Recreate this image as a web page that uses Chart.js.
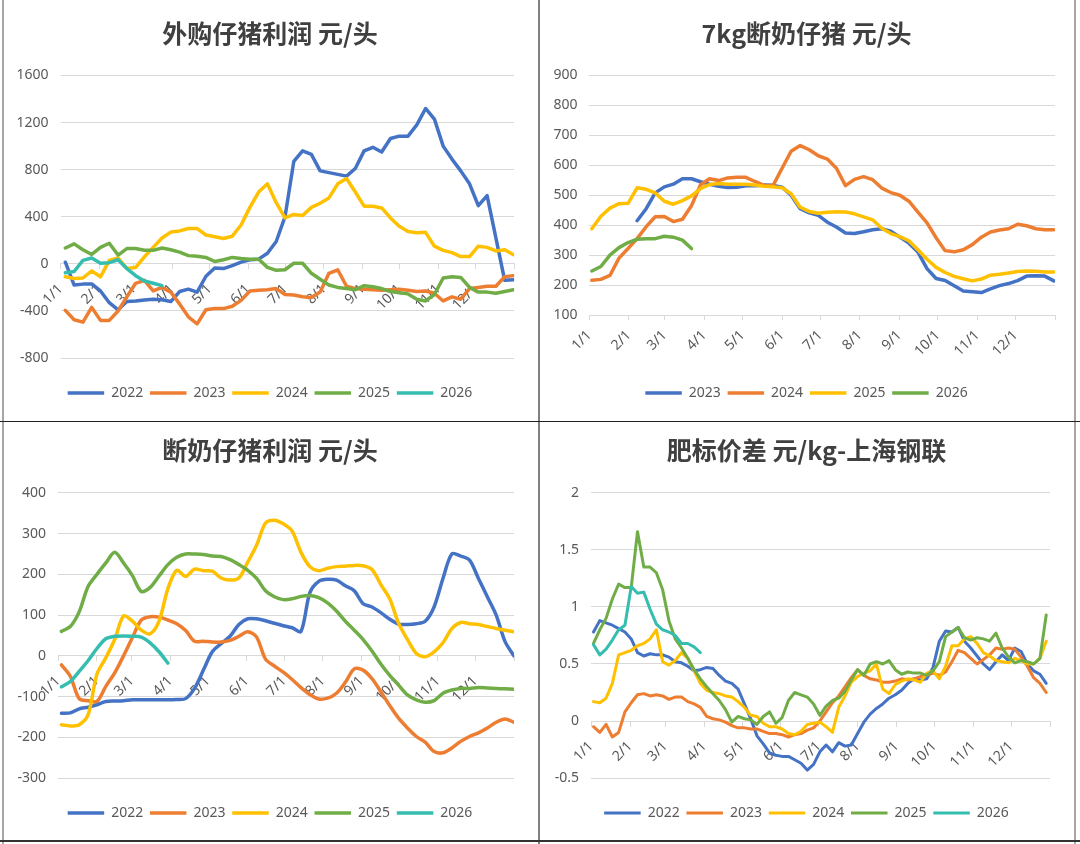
<!DOCTYPE html>
<html>
<head>
<meta charset="utf-8">
<script src="https://cdn.jsdelivr.net/npm/chart.js@4.4.1/dist/chart.umd.min.js"></script>
<style>
  body { margin: 0; background: #fff; }
  #wrap { position: relative; width: 1080px; height: 844px; background: #fff; overflow: hidden; }
  canvas { position: absolute; }
  .rule { position: absolute; }
</style>
</head>
<body>
<div id="wrap">
  <div class="rule" style="left:2px;top:0;width:2px;height:844px;background:#a6a6a6"></div>
  <div class="rule" style="left:538px;top:0;width:2px;height:844px;background:#808080"></div>
  <div class="rule" style="left:1074px;top:0;width:2px;height:844px;background:#a6a6a6"></div>
  <div class="rule" style="left:0;top:421px;width:1080px;height:1px;background:#222"></div>
  <div class="rule" style="left:0;top:840px;width:1080px;height:1.5px;background:#333"></div>
  <canvas id="c1" width="534" height="420" style="left:4px;top:0"></canvas>
  <canvas id="c2" width="533" height="420" style="left:541px;top:0"></canvas>
  <canvas id="c3" width="534" height="418" style="left:4px;top:422px"></canvas>
  <canvas id="c4" width="533" height="418" style="left:541px;top:422px"></canvas>
</div>
<script>
// month boundaries (day of year) and their labels
const MONTH_DAYS = [0, 31, 59, 90, 120, 151, 181, 212, 243, 273, 304, 334, 365];
const MONTH_LABELS = ['1/1', '2/1', '3/1', '4/1', '5/1', '6/1', '7/1', '8/1', '9/1', '10/1', '11/1', '12/1', ''];
const PALETTE = ['#4472C4', '#ED7D31', '#FFC000', '#70AD47', '#35BDB0'];

// 外购仔猪利润 元/头 (weekly)
const years1 = ['2022', '2023', '2024', '2025', '2026'];
const p1_2022 = [14, -180, -172, -170, -230, -330, -390, -320, -315, -306, -300, -305, -320, -235, -215, -240, -105, -35, -40, -15, 15, 35, 40, 90, 190, 400, 870, 960, 930, 790, 775, 760, 745, 810, 960, 990, 950, 1065, 1085, 1085, 1180, 1320, 1230, 1000, 890, 790, 680, 495, 580, 220, -140, -135];
const p1_2023 = [-395, -475, -495, -370, -480, -480, -400, -280, -165, -140, -230, -200, -240, -340, -450, -510, -390, -380, -380, -360, -310, -230, -225, -220, -210, -260, -265, -280, -285, -240, -80, -50, -190, -210, -215, -220, -225, -220, -215, -225, -235, -230, -250, -315, -280, -300, -210, -200, -190, -190, -110, -100];
const p1_2024 = [-110, -125, -120, -60, -110, 30, 50, -40, -30, 60, 140, 220, 270, 280, 300, 300, 245, 230, 215, 235, 330, 480, 610, 680, 520, 390, 420, 410, 480, 515, 560, 680, 725, 610, 490, 490, 475, 390, 320, 275, 265, 268, 150, 115, 95, 62, 62, 150, 140, 110, 120, 78];
const p1_2025 = [135, 170, 120, 80, 140, 175, 75, 130, 130, 115, 115, 135, 120, 100, 70, 65, 55, 20, 35, 55, 45, 40, 40, -30, -55, -50, 5, 5, -80, -130, -180, -200, -210, -220, -185, -195, -210, -235, -245, -255, -300, -315, -260, -120, -110, -115, -200, -240, -240, -250, -235, -220];
const p1_2026 = [-75, -65, 30, 50, 5, 10, 35, -40, -100, -145, -165, -185];

// 7kg断奶仔猪 元/头 (weekly)
const years2 = ['2023', '2024', '2025', '2026'];
const p2_2023 = [null, null, null, null, null, 415, 455, 508, 528, 537, 555, 555, 545, 537, 530, 526, 527, 532, 532, 534, 533, 527, 500, 455, 441, 433, 410, 394, 374, 372, 378, 385, 388, 380, 360, 340, 310, 255, 222, 215, 198, 180, 178, 175, 187, 198, 205, 215, 230, 231, 230, 214];
const p2_2024 = [216, 219, 232, 290, 322, 355, 395, 428, 429, 412, 420, 465, 535, 555, 549, 558, 560, 560, 546, 533, 532, 590, 647, 666, 652, 632, 621, 590, 532, 553, 562, 552, 524, 509, 500, 480, 444, 408, 358, 315, 311, 318, 335, 360, 377, 384, 388, 403, 398, 388, 385, 385];
const p2_2025 = [388, 430, 457, 472, 473, 525, 520, 508, 480, 470, 482, 498, 522, 536, 539, 537, 537, 537, 534, 530, 528, 525, 505, 460, 446, 440, 443, 445, 444, 438, 428, 418, 390, 372, 362, 348, 318, 286, 259, 242, 229, 221, 214, 220, 233, 236, 240, 245, 247, 246, 244, 244];
const p2_2026 = [247, 262, 300, 325, 342, 353, 355, 355, 363, 360, 350, 322];

// 断奶仔猪利润 元/头 (weekly)
const years3 = ['2022', '2023', '2024', '2025', '2026'];
const p3_2022 = [-141, -140, -130, -126, -120, -112, -111, -110, -108, -108, -108, -108, -108, -107, -105, -80, -35, 10, 30, 48, 77, 91, 91, 86, 80, 74, 69, 60, 155, 183, 188, 186, 172, 160, 128, 120, 106, 90, 78, 77, 79, 85, 120, 190, 250, 245, 235, 190, 145, 100, 35, 0];
const p3_2023 = [-22, -50, -105, -110, -112, -75, -42, 0, 45, 88, 96, 95, 88, 79, 62, 36, 36, 34, 34, 38, 48, 59, 46, -8, -25, -40, -58, -78, -95, -106, -104, -92, -65, -32, -35, -56, -88, -122, -153, -177, -198, -212, -235, -238, -226, -210, -198, -189, -177, -163, -155, -163];
const p3_2024 = [-169, -172, -169, -145, -45, -5, 40, 98, 85, 63, 54, 85, 165, 210, 195, 213, 209, 208, 191, 186, 191, 230, 272, 326, 333, 324, 306, 254, 219, 209, 215, 219, 220, 222, 221, 212, 175, 140, 80, 40, 6, -2, 10, 32, 67, 82, 79, 77, 72, 67, 63, 59];
const p3_2025 = [60, 72, 108, 170, 200, 228, 254, 228, 197, 158, 168, 196, 224, 242, 250, 250, 249, 245, 244, 236, 224, 210, 190, 160, 145, 138, 140, 146, 148, 143, 130, 110, 85, 63, 40, 12, -20, -48, -72, -96, -108, -114, -110, -92, -84, -80, -80, -78, -79, -80, -81, -82];
const p3_2026 = [-76, -63, -38, -12, 18, 42, 48, 49, 48, 46, 32, 10, -18];

// 肥标价差 元/kg-上海钢联 (every 5 days)
const years4 = ['2022', '2023', '2024', '2025', '2026'];
const p4_2022 = [0.78, 0.88, 0.86, 0.84, 0.81, 0.78, 0.72, 0.60, 0.57, 0.59, 0.58, 0.58, 0.56, 0.52, 0.51, 0.48, 0.44, 0.45, 0.47, 0.46, 0.40, 0.35, 0.33, 0.28, 0.15, 0.02, -0.13, -0.20, -0.28, -0.30, -0.31, -0.31, -0.34, -0.37, -0.43, -0.38, -0.27, -0.21, -0.27, -0.19, -0.22, -0.21, -0.11, -0.01, 0.06, 0.11, 0.15, 0.20, 0.23, 0.27, 0.33, 0.37, 0.36, 0.37, 0.47, 0.70, 0.79, 0.78, 0.82, 0.70, 0.64, 0.57, 0.50, 0.45, 0.52, 0.58, 0.53, 0.64, 0.61, 0.50, 0.44, 0.41, 0.33];
const p4_2023 = [-0.05, -0.10, -0.03, -0.14, -0.10, 0.08, 0.16, 0.23, 0.24, 0.22, 0.23, 0.22, 0.19, 0.21, 0.21, 0.17, 0.15, 0.12, 0.04, 0.02, 0.01, -0.01, -0.04, -0.06, -0.06, -0.07, -0.07, -0.09, -0.11, -0.11, -0.12, -0.14, -0.12, -0.11, -0.08, -0.06, 0.00, 0.08, 0.16, 0.22, 0.30, 0.38, 0.45, 0.40, 0.37, 0.36, 0.34, 0.34, 0.35, 0.37, 0.36, 0.37, 0.39, 0.40, 0.42, 0.40, 0.43, 0.52, 0.62, 0.60, 0.55, 0.50, 0.54, 0.58, 0.64, 0.63, 0.64, 0.63, 0.56, 0.48, 0.38, 0.33, 0.25];
const p4_2024 = [0.17, 0.16, 0.20, 0.33, 0.58, 0.60, 0.62, 0.66, 0.68, 0.72, 0.80, 0.52, 0.49, 0.53, 0.60, 0.55, 0.44, 0.33, 0.27, 0.25, 0.24, 0.22, 0.21, 0.17, 0.12, 0.05, 0.04, -0.02, -0.05, -0.05, -0.07, -0.11, -0.12, -0.09, -0.03, -0.02, -0.01, -0.05, -0.10, 0.12, 0.22, 0.34, 0.39, 0.42, 0.44, 0.50, 0.28, 0.24, 0.32, 0.35, 0.37, 0.36, 0.34, 0.42, 0.44, 0.37, 0.48, 0.66, 0.66, 0.72, 0.74, 0.68, 0.60, 0.57, 0.53, 0.52, 0.51, 0.55, 0.53, 0.50, 0.50, 0.55, 0.70];
const p4_2025 = [0.68, 0.80, 0.90, 1.07, 1.20, 1.17, 1.17, 1.66, 1.35, 1.35, 1.30, 1.15, 0.88, 0.72, 0.64, 0.55, 0.45, 0.37, 0.30, 0.24, 0.18, 0.10, -0.01, 0.04, 0.02, 0.01, -0.03, 0.04, 0.08, -0.02, 0.03, 0.18, 0.25, 0.23, 0.21, 0.15, 0.05, 0.13, 0.18, 0.20, 0.26, 0.36, 0.45, 0.40, 0.50, 0.52, 0.50, 0.53, 0.45, 0.41, 0.43, 0.42, 0.42, 0.40, 0.44, 0.52, 0.74, 0.78, 0.82, 0.73, 0.71, 0.73, 0.72, 0.70, 0.77, 0.64, 0.56, 0.51, 0.53, 0.52, 0.50, 0.55, 0.93];
const p4_2026 = [0.67, 0.58, 0.63, 0.71, 0.80, 0.84, 1.18, 1.12, 1.13, 0.98, 0.85, 0.80, 0.78, 0.75, 0.68, 0.68, 0.65, 0.60];

const TICK_FONT = { family: 'Noto Sans', size: 14 };

function lineChart(id, o) {
  const datasets = o.years.map((yr, k) => ({
    label: yr,
    data: o.series[k].map((v, i) => ({ x: o.x0 + o.dx * i, y: v })),
    borderColor: PALETTE[k],
    backgroundColor: PALETTE[k],
    borderWidth: o.lw,
    borderCapStyle: 'round',
    borderJoinStyle: 'round',
    pointRadius: 0,
    tension: o.tension,
    order: -k
  }));

  return new Chart(document.getElementById(id), {
    type: 'line',
    data: { datasets },
    options: {
      responsive: false,
      animation: false,
      layout: { padding: { left: o.padL, right: o.padR, top: 0, bottom: 10 } },
      scales: {
        x: {
          type: 'linear',
          min: 0,
          max: 365,
          position: o.axisAtZero ? { y: 0 } : 'bottom',
          afterBuildTicks: s => { s.ticks = MONTH_DAYS.map(v => ({ value: v })); },
          afterFit: s => { if (o.xHeight) s.height = o.xHeight; },
          grid: { drawOnChartArea: false, drawTicks: true, tickLength: 5, color: '#D9D9D9' },
          border: { color: '#D9D9D9' },
          ticks: {
            autoSkip: false, minRotation: 45, maxRotation: 45, padding: o.xPad,
            color: '#595959', font: TICK_FONT,
            callback: (v, i) => MONTH_LABELS[i]
          }
        },
        y: {
          min: o.yMin,
          max: o.yMax,
          afterFit: s => { s.width = o.yWidth; },
          grid: { color: '#D9D9D9', drawTicks: false },
          border: { display: false },
          ticks: { stepSize: o.step, padding: 12, color: '#595959', font: TICK_FONT, callback: v => String(v) }
        },
        // empty right-hand strip so the plot ends where the original one does
        yR: {
          type: 'linear',
          position: 'right',
          grid: { display: false },
          border: { display: false },
          ticks: { display: false },
          afterFit: s => { s.width = o.rGap; }
        }
      },
      plugins: {
        tooltip: { enabled: false },
        title: {
          display: true,
          text: o.title,
          color: '#404040',
          font: { family: 'Noto Sans CJK SC', size: 25, weight: 'bold', lineHeight: 1.2 },
          padding: { top: o.tTop, bottom: o.tBottom }
        },
        legend: {
          position: 'bottom',
          title: o.legendGap
            ? { display: true, text: '', font: { size: 1 }, padding: { top: o.legendGap, bottom: 0 } }
            : { display: false },
          labels: {
            usePointStyle: true,
            pointStyle: 'line',
            pointStyleWidth: 36.5,
            padding: 6.75,
            color: '#595959',
            font: { family: 'Noto Sans', size: 14 },
            sort: (a, b) => a.datasetIndex - b.datasetIndex
          }
        }
      }
    }
  });
}

lineChart('c1', {
  title: '外购仔猪利润 元/头', years: years1,
  series: [p1_2022, p1_2023, p1_2024, p1_2025, p1_2026],
  x0: 3.9, dx: 7.07, lw: 3.5, tension: 0,
  yMin: -800, yMax: 1600, step: 400,
  padL: 9, padR: 11, yWidth: 47.5, rGap: 7.5,
  axisAtZero: true, xPad: 12, tTop: 18.6, tBottom: 26.9, legendGap: 20
});

lineChart('c2', {
  title: '7kg断奶仔猪 元/头', years: years2,
  series: [p2_2023, p2_2024, p2_2025, p2_2026],
  x0: 1.9, dx: 7.1, lw: 3.5, tension: 0,
  yMin: 100, yMax: 900, step: 100,
  padL: 11, padR: 13, yWidth: 37.4, rGap: 5.7,
  axisAtZero: false, xHeight: 64.25, xPad: 7, tTop: 18.6, tBottom: 26.9, legendGap: 0
});

lineChart('c3', {
  title: '断奶仔猪利润 元/头', years: years3,
  series: [p3_2022, p3_2023, p3_2024, p3_2025, p3_2026],
  x0: 2.75, dx: 7.1, lw: 3.5, tension: 0.3,
  yMin: -300, yMax: 400, step: 100,
  padL: 9, padR: 11, yWidth: 45, rGap: 8,
  axisAtZero: true, xPad: 12, tTop: 13.6, tBottom: 27.3, legendGap: 20
});

lineChart('c4', {
  title: '肥标价差 元/kg-上海钢联', years: years4,
  series: [p4_2022, p4_2023, p4_2024, p4_2025, p4_2026],
  x0: 1.9, dx: 5, lw: 3, tension: 0,
  yMin: -0.5, yMax: 2, step: 0.5,
  padL: 11, padR: 13, yWidth: 39.1, rGap: 6.4,
  axisAtZero: true, xPad: 12, tTop: 13.6, tBottom: 27.3, legendGap: 20
});
</script>
</body>
</html>
